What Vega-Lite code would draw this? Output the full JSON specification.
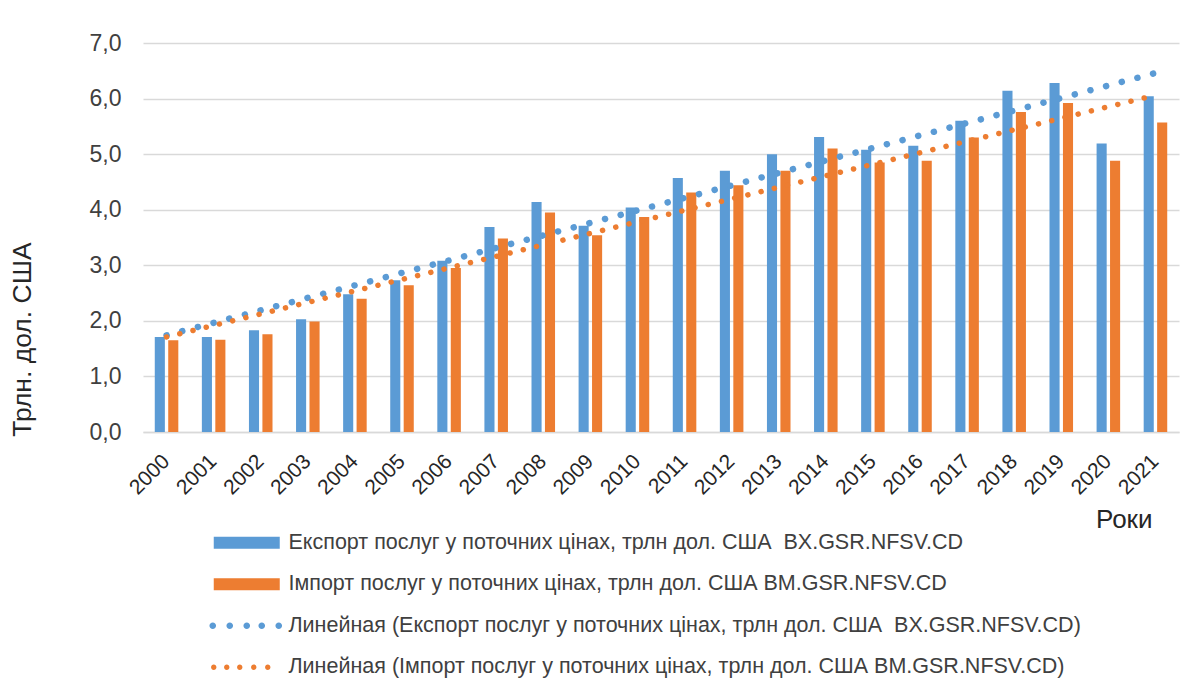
{
  "$schema": "https://vega.github.io/schema/vega-lite/v6.json",
  "width": 1036,
  "height": 389,
  "autosize": "none",
  "padding": {"left": 143, "top": 43, "right": 18, "bottom": 257},
  "background": "white",
  "config": {
    "font": "Liberation Sans",
    "view": {"stroke": null}
  },
  "datasets": {
    "bars": [
      {"year": 2000, "series": "Експорт послуг у поточних цінах, трлн дол. США  BX.GSR.NFSV.CD", "value": 1.71},
      {"year": 2001, "series": "Експорт послуг у поточних цінах, трлн дол. США  BX.GSR.NFSV.CD", "value": 1.71},
      {"year": 2002, "series": "Експорт послуг у поточних цінах, трлн дол. США  BX.GSR.NFSV.CD", "value": 1.83},
      {"year": 2003, "series": "Експорт послуг у поточних цінах, трлн дол. США  BX.GSR.NFSV.CD", "value": 2.03},
      {"year": 2004, "series": "Експорт послуг у поточних цінах, трлн дол. США  BX.GSR.NFSV.CD", "value": 2.48},
      {"year": 2005, "series": "Експорт послуг у поточних цінах, трлн дол. США  BX.GSR.NFSV.CD", "value": 2.73},
      {"year": 2006, "series": "Експорт послуг у поточних цінах, трлн дол. США  BX.GSR.NFSV.CD", "value": 3.08},
      {"year": 2007, "series": "Експорт послуг у поточних цінах, трлн дол. США  BX.GSR.NFSV.CD", "value": 3.69},
      {"year": 2008, "series": "Експорт послуг у поточних цінах, трлн дол. США  BX.GSR.NFSV.CD", "value": 4.14},
      {"year": 2009, "series": "Експорт послуг у поточних цінах, трлн дол. США  BX.GSR.NFSV.CD", "value": 3.71},
      {"year": 2010, "series": "Експорт послуг у поточних цінах, трлн дол. США  BX.GSR.NFSV.CD", "value": 4.04},
      {"year": 2011, "series": "Експорт послуг у поточних цінах, трлн дол. США  BX.GSR.NFSV.CD", "value": 4.57},
      {"year": 2012, "series": "Експорт послуг у поточних цінах, трлн дол. США  BX.GSR.NFSV.CD", "value": 4.70},
      {"year": 2013, "series": "Експорт послуг у поточних цінах, трлн дол. США  BX.GSR.NFSV.CD", "value": 5.00},
      {"year": 2014, "series": "Експорт послуг у поточних цінах, трлн дол. США  BX.GSR.NFSV.CD", "value": 5.31},
      {"year": 2015, "series": "Експорт послуг у поточних цінах, трлн дол. США  BX.GSR.NFSV.CD", "value": 5.08},
      {"year": 2016, "series": "Експорт послуг у поточних цінах, трлн дол. США  BX.GSR.NFSV.CD", "value": 5.15},
      {"year": 2017, "series": "Експорт послуг у поточних цінах, трлн дол. США  BX.GSR.NFSV.CD", "value": 5.60},
      {"year": 2018, "series": "Експорт послуг у поточних цінах, трлн дол. США  BX.GSR.NFSV.CD", "value": 6.14},
      {"year": 2019, "series": "Експорт послуг у поточних цінах, трлн дол. США  BX.GSR.NFSV.CD", "value": 6.28},
      {"year": 2020, "series": "Експорт послуг у поточних цінах, трлн дол. США  BX.GSR.NFSV.CD", "value": 5.19},
      {"year": 2021, "series": "Експорт послуг у поточних цінах, трлн дол. США  BX.GSR.NFSV.CD", "value": 6.04},
      {"year": 2000, "series": "Імпорт послуг у поточних цінах, трлн дол. США BM.GSR.NFSV.CD", "value": 1.65},
      {"year": 2001, "series": "Імпорт послуг у поточних цінах, трлн дол. США BM.GSR.NFSV.CD", "value": 1.66},
      {"year": 2002, "series": "Імпорт послуг у поточних цінах, трлн дол. США BM.GSR.NFSV.CD", "value": 1.76},
      {"year": 2003, "series": "Імпорт послуг у поточних цінах, трлн дол. США BM.GSR.NFSV.CD", "value": 1.99},
      {"year": 2004, "series": "Імпорт послуг у поточних цінах, трлн дол. США BM.GSR.NFSV.CD", "value": 2.40},
      {"year": 2005, "series": "Імпорт послуг у поточних цінах, трлн дол. США BM.GSR.NFSV.CD", "value": 2.64},
      {"year": 2006, "series": "Імпорт послуг у поточних цінах, трлн дол. США BM.GSR.NFSV.CD", "value": 2.95},
      {"year": 2007, "series": "Імпорт послуг у поточних цінах, трлн дол. США BM.GSR.NFSV.CD", "value": 3.48},
      {"year": 2008, "series": "Імпорт послуг у поточних цінах, трлн дол. США BM.GSR.NFSV.CD", "value": 3.95},
      {"year": 2009, "series": "Імпорт послуг у поточних цінах, трлн дол. США BM.GSR.NFSV.CD", "value": 3.54},
      {"year": 2010, "series": "Імпорт послуг у поточних цінах, трлн дол. США BM.GSR.NFSV.CD", "value": 3.87},
      {"year": 2011, "series": "Імпорт послуг у поточних цінах, трлн дол. США BM.GSR.NFSV.CD", "value": 4.31},
      {"year": 2012, "series": "Імпорт послуг у поточних цінах, трлн дол. США BM.GSR.NFSV.CD", "value": 4.44},
      {"year": 2013, "series": "Імпорт послуг у поточних цінах, трлн дол. США BM.GSR.NFSV.CD", "value": 4.70},
      {"year": 2014, "series": "Імпорт послуг у поточних цінах, трлн дол. США BM.GSR.NFSV.CD", "value": 5.10},
      {"year": 2015, "series": "Імпорт послуг у поточних цінах, трлн дол. США BM.GSR.NFSV.CD", "value": 4.85},
      {"year": 2016, "series": "Імпорт послуг у поточних цінах, трлн дол. США BM.GSR.NFSV.CD", "value": 4.88},
      {"year": 2017, "series": "Імпорт послуг у поточних цінах, трлн дол. США BM.GSR.NFSV.CD", "value": 5.30},
      {"year": 2018, "series": "Імпорт послуг у поточних цінах, трлн дол. США BM.GSR.NFSV.CD", "value": 5.76},
      {"year": 2019, "series": "Імпорт послуг у поточних цінах, трлн дол. США BM.GSR.NFSV.CD", "value": 5.92},
      {"year": 2020, "series": "Імпорт послуг у поточних цінах, трлн дол. США BM.GSR.NFSV.CD", "value": 4.88},
      {"year": 2021, "series": "Імпорт послуг у поточних цінах, трлн дол. США BM.GSR.NFSV.CD", "value": 5.57}
    ],
    "trends": [
      {"year": 2000, "series": "Линейная (Експорт послуг у поточних цінах, трлн дол. США  BX.GSR.NFSV.CD)", "value": 1.74},
      {"year": 2021, "series": "Линейная (Експорт послуг у поточних цінах, трлн дол. США  BX.GSR.NFSV.CD)", "value": 6.46},
      {"year": 2000, "series": "Линейная (Імпорт послуг у поточних цінах, трлн дол. США BM.GSR.NFSV.CD)", "value": 1.71},
      {"year": 2021, "series": "Линейная (Імпорт послуг у поточних цінах, трлн дол. США BM.GSR.NFSV.CD)", "value": 6.06}
    ]
  },
  "encoding": {
    "x": {
      "field": "year",
      "type": "ordinal",
      "scale": {"paddingInner": 0.5, "paddingOuter": 0.25},
      "axis": {
        "title": "Роки",
        "titleFontSize": 26,
        "titleFontWeight": "normal",
        "titleColor": "#262626",
        "titleX": 1009,
        "titleY": 95,
        "titleAlign": "right",
        "titleBaseline": "alphabetic",
        "labelAngle": -45,
        "labelAlign": "right",
        "labelBaseline": "middle",
        "labelFontSize": 21,
        "labelColor": "#262626",
        "labelPadding": 26,
        "ticks": false,
        "domainColor": "#D9D9D9",
        "domainWidth": 1.5,
        "labelOverlap": false
      }
    },
    "y": {
      "field": "value",
      "type": "quantitative",
      "scale": {"domain": [0, 7], "nice": false},
      "axis": {
        "title": "Трлн. дол. США",
        "titleFontSize": 26.5,
        "titleFontWeight": "normal",
        "titleColor": "#262626",
        "titleX": -113,
        "titleY": 296,
        "titleAngle": -90,
        "titleAlign": "center",
        "titleBaseline": "alphabetic",
        "values": [0, 1, 2, 3, 4, 5, 6, 7],
        "labelExpr": "replace(format(datum.value, '.1f'), '.', ',')",
        "labelFontSize": 23,
        "labelColor": "#404040",
        "labelPadding": 22,
        "ticks": false,
        "domain": false,
        "grid": true,
        "gridColor": "#D9D9D9",
        "gridWidth": 1.5
      }
    },
    "color": {
      "field": "series",
      "type": "nominal",
      "scale": {
        "domain": [
          "Експорт послуг у поточних цінах, трлн дол. США  BX.GSR.NFSV.CD",
          "Імпорт послуг у поточних цінах, трлн дол. США BM.GSR.NFSV.CD",
          "Линейная (Експорт послуг у поточних цінах, трлн дол. США  BX.GSR.NFSV.CD)",
          "Линейная (Імпорт послуг у поточних цінах, трлн дол. США BM.GSR.NFSV.CD)"
        ],
        "range": ["#5B9BD5", "#ED7D31", "#5B9BD5", "#ED7D31"]
      },
      "legend": {
        "title": null,
        "orient": "none",
        "legendX": 116,
        "legendY": 489,
        "direction": "vertical",
        "labelFontSize": 21.5,
        "labelColor": "#404040",
        "labelLimit": 2000,
        "labelOffset": 8,
        "labelExpr": "replace(datum.label, 'США  B', 'США\u00a0\u00a0B')",
        "rowPadding": 18.5,
        "symbolSize": 400,
        "encode": {
          "symbols": {
            "update": {
              "shape": {"signal": "indexof(datum.value, 'Линейная (Е') >= 0 ? 'M-6.03,0a0.33,0.33 0 1,0 0.66,0a0.33,0.33 0 1,0 -0.66,0ZM-4.33,0a0.33,0.33 0 1,0 0.66,0a0.33,0.33 0 1,0 -0.66,0ZM-2.63,0a0.33,0.33 0 1,0 0.66,0a0.33,0.33 0 1,0 -0.66,0ZM-1.13,0a0.33,0.33 0 1,0 0.66,0a0.33,0.33 0 1,0 -0.66,0ZM0.57,0a0.33,0.33 0 1,0 0.66,0a0.33,0.33 0 1,0 -0.66,0Z' : indexof(datum.value, 'Линейная (І') >= 0 ? 'M-5.87,0a0.27,0.27 0 1,0 0.54,0a0.27,0.27 0 1,0 -0.54,0ZM-4.57,0a0.27,0.27 0 1,0 0.54,0a0.27,0.27 0 1,0 -0.54,0ZM-3.27,0a0.27,0.27 0 1,0 0.54,0a0.27,0.27 0 1,0 -0.54,0ZM-1.87,0a0.27,0.27 0 1,0 0.54,0a0.27,0.27 0 1,0 -0.54,0ZM-0.47,0a0.27,0.27 0 1,0 0.54,0a0.27,0.27 0 1,0 -0.54,0Z' : 'M-5.6,-0.6L1,-0.6L1,0.6L-5.6,0.6Z'"},
              "size": {"value": 400},
              "fill": {"scale": "color", "field": "value"},
              "stroke": {"value": "transparent"},
              "strokeWidth": {"value": 0},
              "opacity": {"value": 1},
              "fillOpacity": {"value": 1}
            }
          }
        }
      }
    }
  },
  "layer": [
    {
      "data": {"name": "bars"},
      "mark": {"type": "bar"},
      "encoding": {
        "xOffset": {
          "field": "series",
          "type": "nominal",
          "scale": {
            "paddingInner": 0.25,
            "domain": [
              "Експорт послуг у поточних цінах, трлн дол. США  BX.GSR.NFSV.CD",
              "Імпорт послуг у поточних цінах, трлн дол. США BM.GSR.NFSV.CD"
            ]
          }
        }
      }
    },
    {
      "data": {"name": "trends"},
      "transform": [{"filter": "indexof(datum.series, 'Линейная (Е') >= 0"}],
      "mark": {"type": "line", "strokeWidth": 6.5, "strokeCap": "round", "strokeDash": [0.1, 16.1]},
      "encoding": {}
    },
    {
      "data": {"name": "trends"},
      "transform": [{"filter": "indexof(datum.series, 'Линейная (І') >= 0"}],
      "mark": {"type": "line", "strokeWidth": 5.5, "strokeCap": "round", "strokeDash": [0.1, 13.5]},
      "encoding": {}
    }
  ]
}
